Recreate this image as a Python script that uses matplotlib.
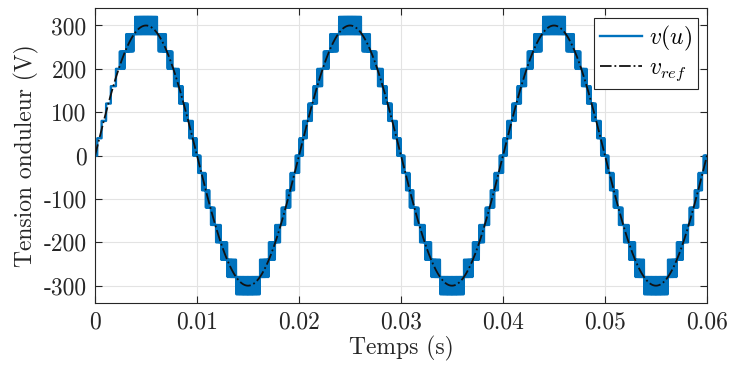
"""
Tension de sortie d'un onduleur multiniveaux et sa reference sinusoidale.
"""

import numpy as np
import matplotlib.pyplot as plt
from matplotlib.ticker import FixedLocator, FixedFormatter

# ============================== donnees ======================================

V_PEAK = 300.0         # amplitude de la reference (V)
F_GRID = 50.0          # frequence de la reference (Hz)
V_STEP = 40.0          # ecart entre deux niveaux (V)
F_CARRIER = 8000.0     # frequence de la porteuse MLI (Hz)
T_START_PWM = 0.0023   # debut de la MLI (s), escalier simple avant
T_END = 0.06
N_SAMPLES = 60001

X_TICKS = [0, 0.01, 0.02, 0.03, 0.04, 0.05, 0.06]
X_LABELS = ["0", "0.01", "0.02", "0.03", "0.04", "0.05", "0.06"]
Y_TICKS = [-300, -200, -100, 0, 100, 200, 300]
Y_LABELS = ["-300", "-200", "-100", "0", "100", "200", "300"]

BLUE = "#0072BD"

# ============================== main =========================================


def inverter_voltage(t, vref):
    level = vref / V_STEP
    k = np.floor(level)
    duty = level - k
    carrier = np.abs(((t * F_CARRIER) % 1.0) * 2 - 1)
    v_pwm = (k + (duty > carrier)) * V_STEP
    v_stair = np.round(level) * V_STEP
    return np.where(t < T_START_PWM, v_stair, v_pwm)


def main():
    plt.rcParams["font.family"] = "cmr10"
    plt.rcParams["mathtext.fontset"] = "cm"
    plt.rcParams["axes.unicode_minus"] = False
    plt.rcParams["axes.formatter.use_mathtext"] = True

    t = np.linspace(0, T_END, N_SAMPLES)
    vref = V_PEAK * np.sin(2 * np.pi * F_GRID * t)
    v = inverter_voltage(t, vref)

    fig = plt.figure(figsize=(7.32, 3.70), dpi=100)
    ax = fig.add_axes([0.1298, 0.181, 0.836, 0.797])

    ax.plot(t, v, color=BLUE, lw=1.7, label=r"$v(u)$")
    ax.plot(t, vref, color="#111111", ls="-.", lw=1.3, label=r"$v_{ref}$")

    ax.set_xlim(0, T_END)
    ax.set_ylim(-340, 340)
    ax.xaxis.set_major_locator(FixedLocator(X_TICKS))
    ax.xaxis.set_major_formatter(FixedFormatter(X_LABELS))
    ax.yaxis.set_major_locator(FixedLocator(Y_TICKS))
    ax.yaxis.set_major_formatter(FixedFormatter(Y_LABELS))

    ax.grid(True, color="#e3e3e3", lw=0.8)
    ax.set_axisbelow(True)
    ax.tick_params(direction="in", top=True, right=True, length=5,
                   width=0.8, color="#262626", labelsize=17,
                   labelcolor="#262626", pad=6)
    for sp in ax.spines.values():
        sp.set_color("#262626")
        sp.set_linewidth(0.8)

    ax.set_xlabel("Temps (s)", fontsize=17, color="#262626", labelpad=2)
    ax.set_ylabel("Tension onduleur (V)", fontsize=17, color="#262626",
                  labelpad=3)

    leg = ax.legend(loc="upper right", fontsize=17, fancybox=False,
                    framealpha=1, edgecolor="#262626", borderaxespad=0.4,
                    handlelength=1.75, handletextpad=0.3, borderpad=0.25,
                    labelspacing=0.2)
    leg.get_frame().set_linewidth(0.8)

    plt.savefig("out.png", dpi=100)


if __name__ == "__main__":
    main()
